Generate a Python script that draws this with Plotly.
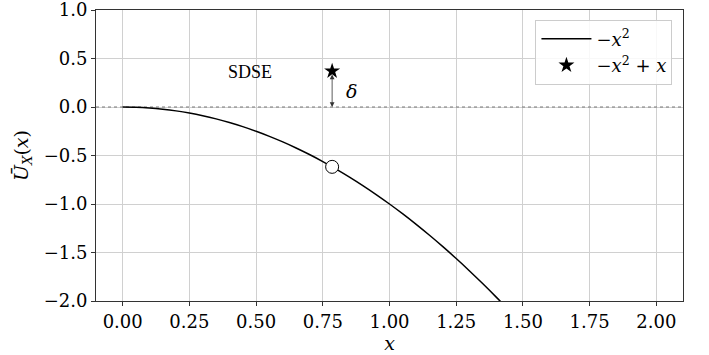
import plotly.graph_objects as go

# curve -x^2
curve_x = [0.0, 0.05, 0.1, 0.15, 0.2, 0.25, 0.3, 0.35, 0.4, 0.45, 0.5, 0.55, 0.6, 0.65, 0.7, 0.75,
           0.8, 0.85, 0.9, 0.95, 1.0, 1.05, 1.1, 1.15, 1.2, 1.25, 1.3, 1.35, 1.4, 1.45]
curve_y = [0.0, -0.0025, -0.01, -0.0225, -0.04, -0.0625, -0.09, -0.1225, -0.16, -0.2025, -0.25,
           -0.3025, -0.36, -0.4225, -0.49, -0.5625, -0.64, -0.7225, -0.81, -0.9025, -1.0, -1.1025,
           -1.21, -1.3225, -1.44, -1.5625, -1.69, -1.8225, -1.96, -2.1025]

circle_x = [0.785]
circle_y = [-0.617]

star_x = [0.785]
star_y = [0.37]

arrow_top = 0.35
arrow_bottom = 0.0

x_ticks = [0.0, 0.25, 0.5, 0.75, 1.0, 1.25, 1.5, 1.75, 2.0]
x_tick_labels = ["0.00", "0.25", "0.50", "0.75", "1.00", "1.25", "1.50", "1.75", "2.00"]
y_ticks = [1.0, 0.5, 0.0, -0.5, -1.0, -1.5, -2.0]
y_tick_labels = ["1.0", "0.5", "0.0", "\u22120.5", "\u22121.0", "\u22121.5", "\u22122.0"]

FONT = "DejaVu Serif, DejaVu Sans, serif"

fig = go.Figure()

fig.add_trace(go.Scatter(x=[-0.1, 2.1], y=[0, 0], mode="lines",
                         line=dict(color="#777777", width=1, dash="dot"),
                         showlegend=False, hoverinfo="skip"))

fig.add_trace(go.Scatter(x=curve_x, y=curve_y, mode="lines",
                         line=dict(color="black", width=1.5, shape="spline"),
                         name="\u2212<i>x</i><sup>2</sup>"))

fig.add_trace(go.Scatter(x=star_x, y=star_y, mode="markers",
                         marker=dict(symbol="star", size=12, color="black"),
                         name="\u2212<i>x</i><sup>2</sup> + <i>x</i>"))

fig.add_trace(go.Scatter(x=circle_x, y=circle_y, mode="markers",
                         marker=dict(symbol="circle", size=13, color="white",
                                     line=dict(color="black", width=1)),
                         showlegend=False))

fig.add_annotation(x=star_x[0], y=arrow_bottom, ax=star_x[0], ay=arrow_top,
                   xref="x", yref="y", axref="x", ayref="y",
                   showarrow=True, arrowhead=2, startarrowhead=2,
                   arrowside="end+start", arrowwidth=0.8, arrowsize=1.2,
                   arrowcolor="#333333", text="")

fig.add_annotation(x=0.83, y=0.17, xref="x", yref="y", text="<i>\u03b4</i>",
                   showarrow=False, xanchor="left",
                   font=dict(family=FONT, size=19, color="black"))

fig.add_annotation(x=0.476, y=0.36, xref="x", yref="y", text="SDSE",
                   showarrow=False,
                   font=dict(family="Liberation Serif, serif", size=18, color="black"))

axis_common = dict(showgrid=True, gridcolor="#d0d0d0", gridwidth=1,
                   showline=True, linecolor="#333333", linewidth=1, mirror=True,
                   ticks="outside", ticklen=4, tickcolor="#333333",
                   zeroline=False, automargin=False, ticklabeloverflow="allow")

fig.update_xaxes(range=[-0.1, 2.1], tickvals=x_ticks, ticktext=x_tick_labels,
                 tickfont=dict(family=FONT, size=18, color="black"),
                 title=dict(text="<i>x</i>", font=dict(family=FONT, size=19, color="black"),
                            standoff=0),
                 **axis_common)
fig.update_yaxes(range=[-2.0, 1.0], tickvals=y_ticks, ticktext=y_tick_labels,
                 tickfont=dict(family=FONT, size=18, color="black"),
                 title=dict(text="<i>\u016a</i><sub><i>X</i></sub>(<i>x</i>)",
                            font=dict(family=FONT, size=19, color="black"), standoff=10),
                 **axis_common)

fig.update_layout(
    width=709, height=355,
    margin=dict(l=96, r=26, t=10, b=54),
    plot_bgcolor="white", paper_bgcolor="white",
    font=dict(family=FONT),
    showlegend=True,
    legend=dict(x=0.982, y=0.967, xanchor="right", yanchor="top",
                bgcolor="rgba(255,255,255,0.85)", bordercolor="#cccccc", borderwidth=1,
                font=dict(family=FONT, size=18, color="black"),
                itemwidth=50, tracegroupgap=6),
)

fig.write_html("out.html", post_script="document.body.style.margin='0px';",
               config={"displayModeBar": False})
